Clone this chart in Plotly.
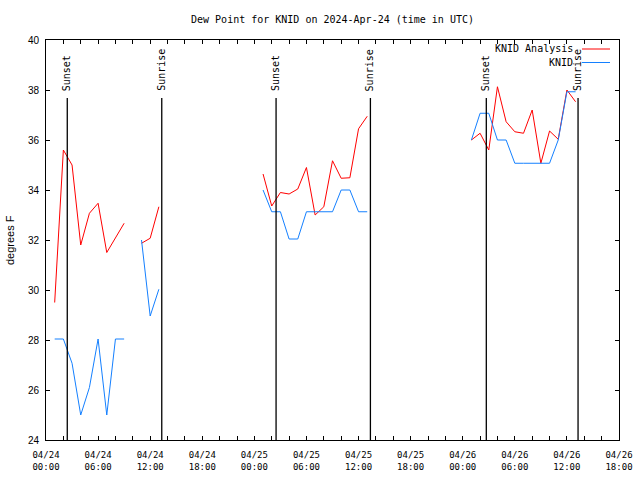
import plotly.graph_objects as go

# ---- data ----
times = [
    "2024-04-24 01:00", "2024-04-24 02:00", "2024-04-24 03:00", "2024-04-24 04:00",
    "2024-04-24 05:00", "2024-04-24 06:00", "2024-04-24 07:00", "2024-04-24 08:00",
    "2024-04-24 09:00", "2024-04-24 10:00", "2024-04-24 11:00", "2024-04-24 12:00",
    "2024-04-24 13:00", "2024-04-24 14:00",
    "2024-04-25 01:00", "2024-04-25 02:00", "2024-04-25 03:00", "2024-04-25 04:00",
    "2024-04-25 05:00", "2024-04-25 06:00", "2024-04-25 07:00", "2024-04-25 08:00",
    "2024-04-25 09:00", "2024-04-25 10:00", "2024-04-25 11:00", "2024-04-25 12:00",
    "2024-04-25 13:00", "2024-04-25 14:00",
    "2024-04-26 01:00", "2024-04-26 02:00", "2024-04-26 03:00", "2024-04-26 04:00",
    "2024-04-26 05:00", "2024-04-26 06:00", "2024-04-26 07:00", "2024-04-26 08:00",
    "2024-04-26 09:00", "2024-04-26 10:00", "2024-04-26 11:00", "2024-04-26 12:00",
    "2024-04-26 13:00",
]
analysis = [
    29.5, 35.6, 35.0, 31.8, 33.07, 33.47, 31.5, 32.07, 32.67, None, 31.87, 32.07, 33.33, None,
    34.64, 33.36, 33.9, 33.84, 34.04, 34.9, 33.0, 33.33, 35.17, 34.47, 34.49, 36.45, 36.95, None,
    36.0, 36.27, 35.6, 38.13, 36.73, 36.33, 36.27, 37.2, 35.07, 36.36, 36.03, 38.0, 37.53,
]
observed = [
    28.04, 28.04, 27.07, 25.0, 26.1, 28.04, 25.0, 28.04, 28.04, None, 32.0, 28.96, 30.03, None,
    34.0, 33.13, 33.13, 32.04, 32.04, 33.13, 33.13, 33.13, 33.13, 34.0, 34.0, 33.13, 33.13, None,
    36.0, 37.07, 37.07, 36.0, 36.0, 35.07, 35.07, 35.07, 35.07, 35.07, 36.0, 37.93, 37.93,
]
sun_times = ["2024-04-24 02:27", "2024-04-24 13:20", "2024-04-25 02:30",
             "2024-04-25 13:22", "2024-04-26 02:43", "2024-04-26 13:17"]
sun_labels = ["Sunset", "Sunrise", "Sunset", "Sunrise", "Sunset", "Sunrise"]

tick_vals = ["2024-04-24 00:00", "2024-04-24 06:00", "2024-04-24 12:00", "2024-04-24 18:00",
             "2024-04-25 00:00", "2024-04-25 06:00", "2024-04-25 12:00", "2024-04-25 18:00",
             "2024-04-26 00:00", "2024-04-26 06:00", "2024-04-26 12:00", "2024-04-26 18:00"]
tick_text = ["04/24<br>00:00", "04/24<br>06:00", "04/24<br>12:00", "04/24<br>18:00",
             "04/25<br>00:00", "04/25<br>06:00", "04/25<br>12:00", "04/25<br>18:00",
             "04/26<br>00:00", "04/26<br>06:00", "04/26<br>12:00", "04/26<br>18:00"]
y_ticks = [24, 26, 28, 30, 32, 34, 36, 38, 40]
series_names = ["KNID Analysis", "KNID"]
series_colors = ["#ff0000", "#1480ff"]

MONO = "DejaVu Sans Mono"
SANS = "Liberation Sans"

fig = go.Figure()
for name, vals, col in zip(series_names, [analysis, observed], series_colors):
    fig.add_trace(go.Scatter(x=times, y=vals, mode="lines", name=name,
                             line=dict(color=col, width=1), connectgaps=False,
                             showlegend=False))

shapes = []
annotations = []
for t, lab in zip(sun_times, sun_labels):
    shapes.append(dict(type="line", xref="x", yref="paper", x0=t, x1=t, y0=0, y1=0.855,
                       line=dict(color="black", width=1.3)))
    annotations.append(dict(x=t, xref="x", y=0.8675, yref="paper", text=lab,
                            textangle=-90, showarrow=False, xanchor="center",
                            yanchor="bottom", font=dict(family=MONO, size=10, color="black")))

# legend (gnuplot style: text then sample)
leg_y = [0.9775, 0.94375]
for name, col, ly in zip(series_names, series_colors, leg_y):
    annotations.append(dict(x=0.924, xref="paper", y=ly, yref="paper", text=name,
                            showarrow=False, xanchor="right", yanchor="middle",
                            font=dict(family=MONO, size=10, color="black")))
    shapes.append(dict(type="line", xref="paper", yref="paper", x0=0.9354, x1=0.9843,
                       y0=ly, y1=ly, line=dict(color=col, width=1)))

annotations.append(dict(x=-0.0628, xref="paper", y=0.5, yref="paper", text="degrees F",
                        textangle=-90, showarrow=False, xanchor="center", yanchor="middle",
                        font=dict(family=SANS, size=11, color="black")))

minor_vals = []
for d in ["2024-04-24", "2024-04-25", "2024-04-26"]:
    for h in range(0, 24, 2):
        minor_vals.append(f"{d} {h:02d}:00")

fig.update_layout(
    width=640, height=480,
    margin=dict(l=46, r=21, t=40, b=40, autoexpand=False),
    paper_bgcolor="white", plot_bgcolor="white",
    title=dict(text="Dew Point for KNID on 2024-Apr-24 (time in UTC)",
               x=0.5, xref="paper", xanchor="center", y=1 - 19 / 480, yanchor="middle",
               font=dict(family=MONO, size=10, color="black")),
    shapes=shapes, annotations=annotations,
    xaxis=dict(type="date", range=["2024-04-24 00:00", "2024-04-26 18:00"],
               tickmode="array", tickvals=tick_vals, ticktext=tick_text,
               ticks="inside", ticklen=4, tickcolor="black", showgrid=False,
               showline=True, linecolor="black", linewidth=1, mirror="ticks",
               ticklabelstandoff=6,
               tickfont=dict(family=MONO, size=9, color="black"), zeroline=False,
               minor=dict(tickmode="array", tickvals=minor_vals, ticks="inside",
                          ticklen=4, tickcolor="black", showgrid=False)),
    yaxis=dict(range=[24, 40], tickmode="array", tickvals=y_ticks,
               ticks="inside", ticklen=4, tickcolor="black", showgrid=False,
               showline=True, linecolor="black", linewidth=1, mirror="ticks",
               ticklabelstandoff=4,
               tickfont=dict(family=SANS, size=10, color="black"), zeroline=False),
)

fig.write_html("out.html", config={"displayModeBar": False},
               post_script="document.body.style.margin='0';")
